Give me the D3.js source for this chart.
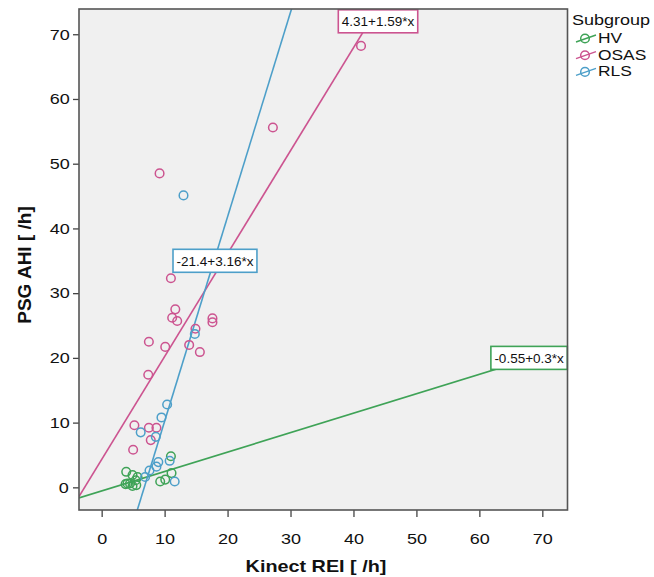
<!DOCTYPE html>
<html>
<head>
<meta charset="utf-8">
<script src="https://cdn.jsdelivr.net/npm/d3@7"></script>
<style>
  body { margin: 0; background: #fff; }
  text { font-family: "Liberation Sans", Arial, sans-serif; fill: #111; }
  .sx { transform-box: fill-box; transform-origin: center; transform: scaleX(1.2); }
  .sxl { transform-box: fill-box; transform-origin: left center; transform: scaleX(1.2); }
</style>
</head>
<body>
<div class="chart"></div>
<script>
var groups = ['HV', 'OSAS', 'RLS'];
var colors = ['#3fa357', '#cc5490', '#4d9fc9'];

// Kinect REI (x) and PSG AHI (y) per subgroup
var hvX = [11.0, 11.1, 3.9, 4.9, 5.7, 4.1, 4.5, 3.8, 5.5, 5.4, 9.3, 10.1, 4.9];
var hvY = [4.8, 2.2, 2.4, 1.9, 1.6, 0.6, 0.6, 0.5, 0.35, 1.1, 0.9, 1.2, 0.2];
var osasX = [41.2, 27.2, 9.2, 11.0, 11.7, 11.2, 12.0, 17.6, 17.6, 14.9, 7.5, 10.1, 13.9, 15.6, 7.4, 5.2, 7.5, 8.7, 7.8, 5.0];
var osasY = [68.2, 55.6, 48.5, 32.3, 27.5, 26.2, 25.7, 26.1, 25.5, 24.5, 22.5, 21.7, 22.0, 20.9, 17.4, 9.6, 9.2, 9.2, 7.3, 5.8];
var rlsX = [13.0, 14.8, 10.4, 9.5, 6.2, 8.6, 10.8, 9.0, 8.7, 7.6, 6.9, 11.6];
var rlsY = [45.1, 23.7, 12.8, 10.8, 8.5, 7.8, 4.1, 3.9, 3.2, 2.6, 1.6, 0.9];

// fit lines y = a + b*x
var intercepts = [-0.55, 4.31, -21.4];
var slopes = [0.3, 1.59, 3.16];
var fitLabels = ['-0.55+0.3*x', '4.31+1.59*x', '-21.4+3.16*x'];
// where each fit label box sits (centre, data units)
var labelX = [67.9, 43.9, 18.0];
var labelY = [20.0, 72.0, 35.0];

var ticks = [0, 10, 20, 30, 40, 50, 60, 70];

var width = 654, height = 577;
var plotL = 79, plotR = 567.5, plotT = 9, plotB = 510;

var svg = d3.select(".chart").append("svg")
  .attr("width", width)
  .attr("height", height);

var x = d3.scaleLinear().domain([-3.6, 74]).range([plotL, plotR]);
var y = d3.scaleLinear().domain([-3.5, 73.9]).range([plotB, plotT]);

svg.append("defs").append("clipPath").attr("id", "plotclip")
  .append("rect")
    .attr("x", plotL).attr("y", plotT)
    .attr("width", plotR - plotL).attr("height", plotB - plotT);

// plot background
svg.append("rect")
  .attr("x", plotL).attr("y", plotT)
  .attr("width", plotR - plotL).attr("height", plotB - plotT)
  .attr("fill", "#f0f0f0");

// axes
var xAxis = svg.append("g")
  .attr("transform", "translate(0," + plotB + ")")
  .call(d3.axisBottom(x).tickValues(ticks).tickSize(7).tickPadding(16));
var yAxis = svg.append("g")
  .attr("transform", "translate(" + plotL + ",0)")
  .call(d3.axisLeft(y).tickValues(ticks).tickSize(6).tickPadding(3));
[xAxis, yAxis].forEach(function(a) {
  a.select(".domain").remove();
  a.selectAll(".tick line").attr("stroke", "#444").attr("stroke-width", 1.3);
  a.selectAll(".tick text")
    .attr("font-family", "Liberation Sans, Arial, sans-serif")
    .attr("font-size", "15px")
    .attr("fill", "#111");
});
xAxis.selectAll(".tick text").attr("class", "sx");
yAxis.selectAll(".tick text").attr("class", "sx").attr("dx", "-2");

var plot = svg.append("g").attr("clip-path", "url(#plotclip)");

// fit lines
var xs = x.domain();
plot.selectAll(".fit")
  .data(groups)
  .enter()
    .append("line")
      .attr("x1", x(xs[0]))
      .attr("y1", function(d, i) { return y(intercepts[i] + slopes[i] * xs[0]); })
      .attr("x2", x(xs[1]))
      .attr("y2", function(d, i) { return y(intercepts[i] + slopes[i] * xs[1]); })
      .attr("stroke", function(d, i) { return colors[i]; })
      .attr("stroke-width", 1.6);

// points
var series = [[hvX, hvY], [osasX, osasY], [rlsX, rlsY]];
series.forEach(function(s, gi) {
  plot.selectAll(".pt" + gi)
    .data(s[0])
    .enter()
      .append("circle")
        .attr("cx", function(d) { return x(d); })
        .attr("cy", function(d, i) { return y(s[1][i]); })
        .attr("r", 4.3)
        .attr("fill", "none")
        .attr("stroke", colors[gi])
        .attr("stroke-width", 1.5);
});

// fit labels
groups.forEach(function(g, i) {
  var lg = svg.append("g");
  var box = lg.append("rect");
  var t = lg.append("text")
    .attr("x", x(labelX[i]))
    .attr("y", y(labelY[i]))
    .attr("dy", "0.36em")
    .attr("text-anchor", "middle")
    .attr("font-size", "13.5px")
    .text(fitLabels[i]);
  var w = t.node().getComputedTextLength() + 7;
  var h = 23;
  box.attr("x", x(labelX[i]) - w / 2)
    .attr("y", y(labelY[i]) - h / 2)
    .attr("width", w)
    .attr("height", h)
    .attr("fill", "#fff")
    .attr("stroke", colors[i])
    .attr("stroke-width", 1.6);
});

// frame
svg.append("rect")
  .attr("x", plotL).attr("y", plotT)
  .attr("width", plotR - plotL).attr("height", plotB - plotT)
  .attr("fill", "none")
  .attr("stroke", "#555")
  .attr("stroke-width", 1.6);

// axis titles
svg.append("text")
  .attr("x", 316)
  .attr("y", 572)
  .attr("text-anchor", "middle")
  .attr("font-size", "16.5px")
  .attr("font-weight", "bold")
  .attr("class", "sx")
  .text("Kinect REI [ /h]");
svg.append("text")
  .attr("transform", "translate(31,265) rotate(-90)")
  .attr("text-anchor", "middle")
  .attr("font-size", "19px")
  .attr("font-weight", "bold")
  .text("PSG AHI [ /h]");

// legend
var legend = svg.append("g").attr("transform", "translate(572,0)");
legend.append("text")
  .attr("x", 0).attr("y", 25)
  .attr("font-size", "15px")
  .attr("class", "sxl")
  .text("Subgroup");
var items = legend.selectAll(".item")
  .data(groups)
  .enter()
    .append("g")
      .attr("transform", function(d, i) { return "translate(0," + (38 + i * 16.7) + ")"; });
items.append("line")
  .attr("x1", 4).attr("y1", 4)
  .attr("x2", 24).attr("y2", -3)
  .attr("stroke", function(d, i) { return colors[i]; })
  .attr("stroke-width", 1.4);
items.append("circle")
  .attr("cx", 13).attr("cy", 0.5)
  .attr("r", 4.3)
  .attr("fill", "none")
  .attr("stroke", function(d, i) { return colors[i]; })
  .attr("stroke-width", 1.5);
items.append("text")
  .attr("x", 26).attr("y", 0)
  .attr("dy", "0.35em")
  .attr("font-size", "14.5px")
  .attr("class", "sxl")
  .text(function(d) { return d; });
</script>
</body>
</html>
